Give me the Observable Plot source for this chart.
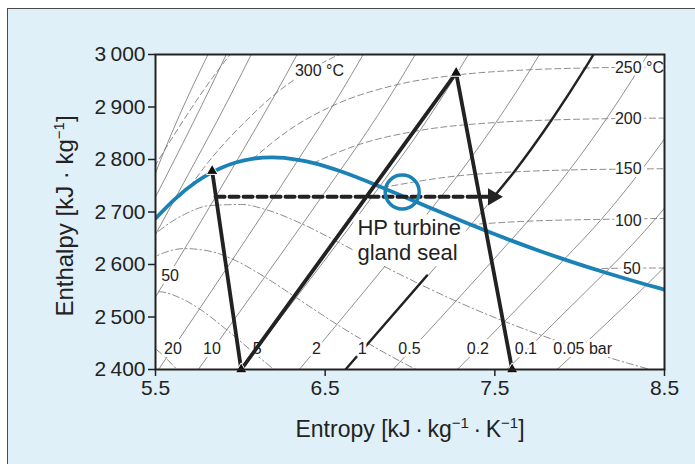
<!DOCTYPE html>
<html><head><meta charset="utf-8">
<script src="https://cdn.jsdelivr.net/npm/d3@7"></script>
<script src="https://cdn.jsdelivr.net/npm/@observablehq/plot@0.6"></script>
<style>
html,body{margin:0;padding:0;background:#fff;}
#wrap{position:relative;width:695px;height:464px;overflow:hidden;}
#panel{position:absolute;left:7px;top:8px;width:720px;height:490px;background:#e0f0f9;border:1.5px solid #4a4a4a;box-sizing:border-box;}
#chart{position:absolute;left:0;top:0;}
</style></head><body><div id="wrap"><div id="panel"></div><div id="chart"></div></div>
<script>
// ---- axes ----
const xTicks = [5.5, 6.5, 7.5, 8.5];
const yTicks = [2400, 2500, 2600, 2700, 2800, 2900, 3000];

// ---- saturated vapour line (s, h) ----
const satS = [5.4920,5.6141,5.7432,5.8133,5.8892,5.9734,6.0701,6.1869,6.3409,6.4448,6.5865,6.8213,6.9919,7.1272,7.3594,7.5939,7.7686,7.9085,8.1502,8.3951,8.4746,8.5580];
const satH = [2684.9,2724.7,2758.0,2772.1,2784.3,2794.3,2801.4,2804.2,2799.5,2792.2,2778.1,2748.7,2725.3,2706.7,2675.5,2645.9,2625.3,2609.7,2584.7,2561.5,2554.4,2547.2];

// ---- isobars [s, h] ----
const p0_05 = [[7.867,2400],[8.3951,2561.5],[8.4948,2593.4],[8.768,2688.0]];
const p0_1  = [[7.571,2400],[8.1502,2584.7],[8.1749,2592.6],[8.4479,2687.5],[8.6882,2783.0]];
const p0_2  = [[7.279,2400],[7.9085,2609.7],[8.128,2686.0],[8.3688,2782.0],[8.5885,2879.0]];
const p0_5  = [[6.900,2400],[7.5939,2645.9],[7.6947,2682.5],[7.9401,2780.1],[8.1580,2877.7],[8.3556,2976.0],[8.5373,3074.3]];
const p1    = [[6.620,2400],[7.3594,2675.5],[7.6134,2776.4],[7.8343,2875.3],[8.0333,2974.3],[8.2158,3074.3]];
const p2    = [[6.348,2400],[7.1272,2706.7],[7.2795,2768.8],[7.5066,2870.5],[7.7086,2971.0],[7.8926,3071.8]];
const p5    = [[6.001,2400],[6.8213,2748.7],[7.0592,2855.4],[7.2709,2960.7],[7.4599,3064.2]];
const p10   = [[5.752,2400],[6.5865,2778.1],[6.6940,2827.9],[6.9247,2942.6],[7.1229,3051.2]];
const p20   = [[5.518,2400],[6.3409,2799.5],[6.5453,2902.5],[6.7664,3023.5]];
const p50   = [[5.239,2400],[5.9734,2794.3],[6.2084,2925.7],[6.4493,3068.4]];
const p100  = [[5.058,2400],[5.6141,2724.7],[5.9443,2923.4],[6.2120,3096.5]];
const p150  = [[5.3098,2610.5],[5.4421,2692.4],[5.8811,2975.5],[6.1404,3156.2]];
const p200  = [[5.30,2600.0],[5.5540,2818.1],[5.9017,3060.1]];

// ---- isotherms [s, h] ----
const t50  = [[8.0753,2591.3],[8.1749,2592.6],[8.4948,2593.4],[8.80,2593.7]];
const t100 = [[7.3549,2676.1],[7.6947,2682.5],[8.128,2686.0],[8.4479,2687.5],[8.80,2688.2]];
const t150 = [[6.8379,2746.5],[7.2795,2768.8],[7.6134,2776.4],[7.9401,2780.1],[8.3688,2782.0],[8.6882,2783.0]];
const t200 = [[6.4302,2793.2],[6.6940,2827.9],[7.0592,2855.4],[7.5066,2870.5],[7.8343,2875.3],[8.1580,2877.7],[8.5885,2879.0]];
const t250 = [[6.0730,2801.0],[6.2858,2855.8],[6.5453,2902.5],[6.9247,2942.6],[7.2709,2960.7],[7.7086,2971.0],[8.0333,2974.3],[8.3556,2976.0],[8.78,2977.0]];
const t300 = [[5.7045,2749.0],[5.7905,2786.5],[6.0696,2885.0],[6.2084,2925.7],[6.3639,2961.7],[6.5412,2993.5],[6.7664,3023.5]];
const t400 = [[5.1418,2580.2],[5.5540,2818.1],[5.8811,2975.5],[6.0429,3040.4]];

// ---- lines of constant dryness [s, h] ----
const q95 = [[5.393,2625.2],[5.501,2658.8],[5.679,2696.8],[5.821,2712.3],[6.010,2714.3],[6.146,2705.0],[6.364,2677.3],[6.573,2643.3],[6.847,2596.5],[7.057,2562.6],[7.269,2530.6],[7.555,2491.8],[7.775,2465.0],[7.999,2440.3],[8.300,2410.5],[8.532,2389.9]];
const q90 = [[5.389,2593.0],[5.544,2621.6],[5.668,2630.3],[5.833,2624.5],[5.952,2610.4],[6.142,2576.6],[6.325,2537.9],[6.567,2486.4],[6.754,2449.7],[6.944,2415.4],[7.201,2373.9]];
const q85 = [[5.276,2527.0],[5.410,2546.3],[5.515,2548.3],[5.656,2534.7],[5.757,2515.9],[5.919,2475.8],[6.077,2432.4],[6.288,2376.3]];
const q80 = [[5.363,2466.3],[5.479,2445.0],[5.562,2421.4],[5.697,2375.0]];

// ---- highlighted 1 bar isobar ----
const hp1Top = [[7.494,2729],[7.6134,2776.4],[7.8343,2875.3],[8.0333,2974.3],[8.2158,3074.3]];
const hp1Low = [[7.100,2579],[6.620,2400]];

// ---- cycle ----
const cycS = [5.834, 6.005, 7.272, 7.602];
const cycH = [2778, 2400, 2965, 2400];

// ---- gland seal leak arrow and marker ----
const arrowS = [5.854, 7.46];
const arrowH = [2729, 2729];
const arrowHeadS = [7.489];
const ringS = [6.954], ringH = [2738];

// ---- labels ----
const barLabels = ["20","10","5","2","1","0.5","0.2","0.1"];
const barLabelS = [5.603,5.833,6.099,6.449,6.718,6.997,7.400,7.683];
const barLabelH = 2439;
const barUnitLabel = "0.05 bar", barUnitS = 7.845;
const leftLabel = "50", leftLabelS = 5.586, leftLabelH = 2578;
const tLabels = ["250 °C","200","150","100","50"];
const tLabelS = [8.208,8.208,8.208,8.208,8.255];
const tLabelH = [2974,2877,2782,2684,2592];
const t300Label = "300 °C", t300S = 6.322, t300H = 2968;
const noteText = "HP turbine\ngland seal", noteS = 6.690, noteH = 2647;

const xTitle = "Entropy [kJ\u2009·\u2009kg^−1^\u2009·\u2009K^−1^]";
const yTitle = "Enthalpy [kJ · kg^−1^]";

// ---- build tables ----
const rows = (lines) => lines.flatMap(([id, pts]) => pts.map(([s, h]) => ({s, h, id})));
const isobarRows = rows([["0.05",p0_05],["0.1",p0_1],["0.2",p0_2],["0.5",p0_5],["1",p1],["2",p2],["5",p5],["10",p10],["20",p20],["50",p50],["100",p100],["150",p150],["200",p200]]);
const isothermRows = rows([["50",t50],["100",t100],["150",t150],["200",t200],["250",t250],["300",t300],["400",t400]]);
const qualityRows = rows([["95",q95],["90",q90],["85",q85],["80",q80]]);
const hpRows = rows([["top",hp1Top],["low",hp1Low]]);
const sat = satS.map((s, i) => ({s, h: satH[i]}));
const cycle = cycS.map((s, i) => ({s, h: cycH[i]}));
const arrow = arrowS.map((s, i) => ({s, h: arrowH[i]}));

const blue = "#1a82b5";
const ink = "#222";
const font = "'Liberation Sans', Arial, sans-serif";
const fmtY = d => `${Math.floor(d / 1000)}\u2009${String(d % 1000).padStart(3, "0")}`;
const halo = {fill: ink, stroke: "white", strokeWidth: 6, paintOrder: "stroke", fontSize: 16};

const chart = Plot.plot({
  width: 695, height: 464,
  marginLeft: 155, marginRight: 31, marginTop: 54, marginBottom: 95,
  x: {domain: [5.5, 8.5], label: null},
  y: {domain: [2400, 3000], label: null},
  style: {fontFamily: font, background: "transparent", color: ink},
  marks: [
    Plot.frame({fill: "white", stroke: "none"}),
    Plot.line(isobarRows, {x: "s", y: "h", z: "id", stroke: "#5e5e5e", strokeWidth: 0.7, curve: "monotone-x", clip: true}),
    Plot.line(isothermRows, {x: "s", y: "h", z: "id", stroke: "#6e6e6e", strokeWidth: 0.8, strokeDasharray: "6,3.5", curve: "monotone-x", clip: true}),
    Plot.line(qualityRows, {x: "s", y: "h", z: "id", stroke: "#6e6e6e", strokeWidth: 0.8, strokeDasharray: "7,3,1.5,3", curve: "monotone-x", clip: true}),
    Plot.line(hpRows, {x: "s", y: "h", z: "id", stroke: ink, strokeWidth: 2.4, curve: "monotone-x", clip: true}),
    // labels with white backgrounds
    Plot.text(barLabels, {x: (d, i) => barLabelS[i], y: () => barLabelH, text: d => d, ...halo}),
    Plot.text([barUnitLabel], {x: () => barUnitS, y: () => barLabelH, text: d => d, textAnchor: "start", ...halo}),
    Plot.text([leftLabel], {x: () => leftLabelS, y: () => leftLabelH, text: d => d, ...halo}),
    Plot.text(tLabels, {x: (d, i) => tLabelS[i], y: (d, i) => tLabelH[i], text: d => d, textAnchor: "start", ...halo}),
    Plot.text([t300Label], {x: () => t300S, y: () => t300H, text: d => d, textAnchor: "start", ...halo}),
    Plot.text([noteText], {x: () => noteS, y: () => noteH, text: d => d, textAnchor: "start", lineHeight: 1.1, fontSize: 22, fill: ink, stroke: "white", strokeWidth: 12, strokeLinejoin: "round", paintOrder: "stroke"}),
    // saturation line
    Plot.line(sat, {x: "s", y: "h", stroke: blue, strokeWidth: 3.8, curve: "monotone-x", clip: true}),
    // cycle
    Plot.line(cycle, {x: "s", y: "h", stroke: ink, strokeWidth: 3.8, strokeLinejoin: "round"}),
    Plot.line(arrow, {x: "s", y: "h", stroke: ink, strokeWidth: 4, strokeDasharray: "9,5"}),
    Plot.dot(arrowHeadS, {x: d => d, y: () => arrowH[0], symbol: "triangle", r: 6.4, rotate: 90, fill: ink, stroke: "none"}),
    Plot.dot(ringS, {x: d => d, y: (d, i) => ringH[i], r: 17, stroke: blue, strokeWidth: 3.5, fill: "none"}),
    Plot.dot(cycle, {x: "s", y: "h", symbol: "triangle", r: 4.3, fill: "#111", stroke: "white", strokeWidth: 1}),
    // axes
    Plot.axisX({ticks: xTicks, tickFormat: d => d.toFixed(1), tickSize: 7, tickPadding: 4, fontSize: 21, label: null, strokeWidth: 1.5}),
    Plot.axisY({ticks: yTicks, tickFormat: fmtY, tickSize: 7, tickPadding: 3, fontSize: 21, label: null, strokeWidth: 1.5}),
    Plot.frame({stroke: "#222", strokeWidth: 2}),
    Plot.text([xTitle], {frameAnchor: "bottom", dy: 67, text: d => d, textAnchor: "middle", fontSize: 23, fill: ink}),
    Plot.text([yTitle], {frameAnchor: "left", dx: -90, dy: 4, rotate: -90, text: d => d, textAnchor: "middle", fontSize: 24, fill: ink})
  ]
});
document.getElementById("chart").appendChild(chart);

// superscripts in axis titles
chart.querySelectorAll("text").forEach(t => {
  const s = t.textContent;
  if (!s.includes("^")) return;
  const parts = s.split("^");
  while (t.firstChild) t.removeChild(t.firstChild);
  const ns = "http://www.w3.org/2000/svg";
  parts.forEach((p, i) => {
    if (!p) return;
    const ts = document.createElementNS(ns, "tspan");
    ts.textContent = p;
    if (i % 2 === 1) { ts.setAttribute("font-size", "15"); ts.setAttribute("dy", "-9"); }
    else if (i > 0) { ts.setAttribute("dy", "9"); }
    t.appendChild(ts);
  });
});
</script></body></html>
